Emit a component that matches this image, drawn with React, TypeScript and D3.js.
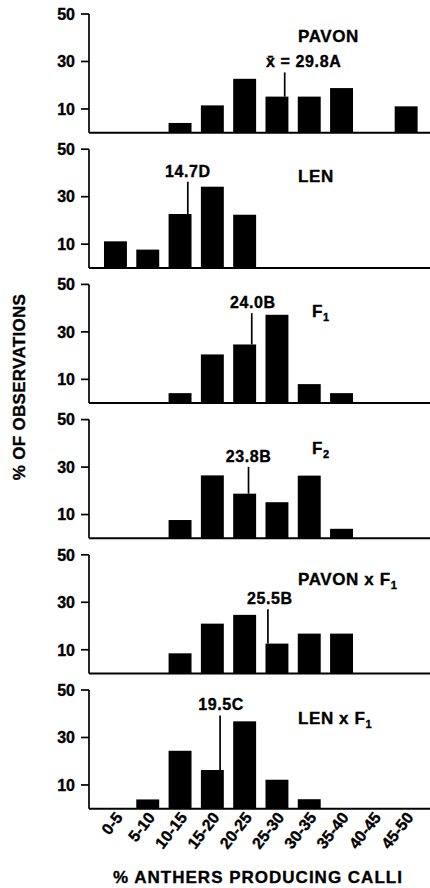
import React from 'react';
import * as d3 from 'd3';

const BINS = ['0-5', '5-10', '10-15', '15-20', '20-25', '25-30', '30-35', '35-40', '40-45', '45-50'];
const Y_TICKS = [10, 30, 50];

const PAVON = [0, 0, 4.1, 11.5, 22.7, 15.2, 15.2, 18.8, 0, 11.1];
const LEN = [11.2, 7.7, 22.7, 34.2, 22.4, 0, 0, 0, 0, 0];
const F1 = [0, 0, 4.2, 20.5, 24.7, 37.2, 8, 4.2, 0, 0];
const F2 = [0, 0, 7.7, 26.5, 18.8, 15.2, 26.4, 4.0, 0, 0];
const PAVON_F1 = [0, 0, 8.5, 21, 24.7, 12.6, 16.8, 16.8, 0, 0];
const LEN_F1 = [0, 3.9, 24.4, 16.3, 36.8, 12.2, 4.0, 0, 0, 0];

// mean labels, where the marker sits on the % axis, and how high its line reaches
const MEAN_LABELS = ['x\u0304 = 29.8A', '14.7D', '24.0B', '23.8B', '25.5B', '19.5C'];
const MEAN_POS = [28.7, 13.7, 23.6, 23.1, 26.1, 18.7];
const MEAN_TOP = [25.4, 36.3, 37.9, 30.1, 27.1, 39.3];

const TITLES: [string, string][] = [
  ['PAVON', ''],
  ['LEN', ''],
  ['F', '1'],
  ['F', '2'],
  ['PAVON x F', '1'],
  ['LEN x F', '1'],
];

const SERIES = [PAVON, LEN, F1, F2, PAVON_F1, LEN_F1];

const FONT = '"Liberation Sans", Arial, Helvetica, sans-serif';

export default function App() {
  const width = 430;
  const height = 888;
  const axisX = 89;
  const firstTop = 14;
  const panelStep = 135.2;
  const panelH = 118.7;

  const x = d3.scaleBand<string>().domain(BINS).range([99.3, 422.3]).paddingInner(0.29).paddingOuter(0.145);
  const xPct = d3.scaleLinear().domain([0, 50]).range([99.3, 422.3]);

  // small layout tweaks per panel (title x / baseline offset, mean label shift)
  const titleX = [298, 298, 312, 312, 298, 298];
  const titleDy = [28, 33, 33, 34, 30, 34];
  const meanDx = [19, 0, 1, 0, 2, 1];

  const lastBase = firstTop + 5 * panelStep + panelH;
  const ink = { stroke: '#000', strokeWidth: 0.35 };

  return (
    <svg width={width} height={height} style={{ position: 'absolute', left: 0, top: 0, background: '#fff' }}
      fontFamily={FONT} fontWeight="bold">
      {SERIES.map((vals, i) => {
        const top = firstTop + i * panelStep;
        const y = d3.scaleLinear().domain([0, 50]).range([top + panelH, top]);
        const base = y(0);
        const mx = xPct(MEAN_POS[i]);
        const binIdx = Math.min(BINS.length - 1, Math.floor(MEAN_POS[i] / 5));
        const [title, sub] = TITLES[i];
        return (
          <g key={i}>
            {vals.map((v, j) => v > 0 && (
              <rect key={j} x={x(BINS[j])} width={x.bandwidth()} y={y(v)} height={base - y(v)} fill="#000" />
            ))}
            <line x1={axisX} x2={axisX} y1={y(50)} y2={base} stroke="#000" strokeWidth={1.7} />
            <line x1={axisX} x2={width} y1={base} y2={base} stroke="#000" strokeWidth={2} />
            {Y_TICKS.map(t => (
              <g key={t}>
                <line x1={axisX - 8} x2={axisX} y1={y(t)} y2={y(t)} stroke="#000" strokeWidth={1.7} />
                <text x={axisX - 14} y={y(t)} dy="0.36em" textAnchor="end" fontSize={16} {...ink}>{t}</text>
              </g>
            ))}
            <line x1={mx} x2={mx} y1={y(MEAN_TOP[i])} y2={y(vals[binIdx])} stroke="#000" strokeWidth={1.7} />
            <text x={mx + meanDx[i]} y={y(MEAN_TOP[i]) - 5} textAnchor="middle" fontSize={16} letterSpacing={0.6} {...ink}>
              {MEAN_LABELS[i]}
            </text>
            <text x={titleX[i]} y={top + titleDy[i]} fontSize={17} letterSpacing={0.6} {...ink}>
              {title}
              {sub && <tspan fontSize={11} dy={4}>{sub}</tspan>}
            </text>
          </g>
        );
      })}
      {BINS.map(b => {
        const cx = (x(b) ?? 0) + x.bandwidth() / 2 + 8;
        const cy = lastBase + 9;
        return (
          <text key={b} x={cx} y={cy} textAnchor="end" fontSize={16} {...ink}
            transform={`rotate(-52 ${cx} ${cy})`}>{b}</text>
        );
      })}
      <text x={258} y={883} textAnchor="middle" fontSize={17} letterSpacing={1} {...ink}>% ANTHERS PRODUCING CALLI</text>
      <text transform={`translate(25, 387) rotate(-90)`} textAnchor="middle" fontSize={17} letterSpacing={0.3} {...ink}>
        % OF OBSERVATIONS
      </text>
    </svg>
  );
}
